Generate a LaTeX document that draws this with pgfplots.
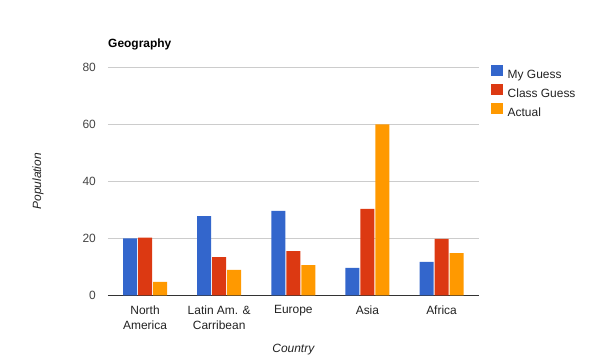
\documentclass[border=0pt]{standalone}
\usepackage{fontspec}
\setmainfont{Liberation Sans}
\usepackage{pgfplots}
\pgfplotsset{compat=1.18}
\usetikzlibrary{calc}
\definecolor{gblue}{HTML}{3366CC}
\definecolor{gred}{HTML}{DC3912}
\definecolor{gorange}{HTML}{FF9900}
\definecolor{ggrid}{HTML}{CCCCCC}
\definecolor{gtick}{HTML}{444444}
\definecolor{gtext}{HTML}{222222}
\definecolor{gaxis}{HTML}{333333}
\pgfplotsset{sq/.style={legend image code/.code={\fill[##1,draw=none] (0bp,-1.5bp) rectangle (11.7bp,10.1bp);}}}
\begin{document}
\begin{tikzpicture}[x=1bp,y=1bp]
\begin{axis}[
  scale only axis, width=370.6bp, height=228bp,
  ybar=1bp, bar width=14bp,
  xmin=-0.5, xmax=4.5, ymin=0, ymax=80,
  enlargelimits=false,
  xtick={0,1,2,3,4},
  xticklabels={North\\America, Latin Am. \&\\Carribean, Europe, Asia, Africa},
  ytick={0,20,40,60,80},
  /pgf/number format/assume math mode=true,
  major tick length=0pt,
  xtick style={draw=none}, ytick style={draw=none},
  ymajorgrids, grid style={ggrid, line width=1bp},
  axis x line*=bottom, axis y line*=left,
  x axis line style={gaxis, line width=1.2bp, -},
  y axis line style={draw=none},
  xticklabel style={align=center, text=gtext, inner sep=0pt, yshift=-10bp, font=\fontsize{12}{15}\selectfont},
  yticklabel style={text=gtick, inner sep=0pt, xshift=-12bp, font=\fontsize{12}{14}\selectfont},
  ylabel={Population}, xlabel={Country},
  ylabel style={at={(axis description cs:-0.189,0.5)}, anchor=center, text=gtext, font=\itshape\fontsize{12}{14}\selectfont},
  xlabel style={at={(axis description cs:0.5,-0.24)}, anchor=center, text=gtext, font=\itshape\fontsize{12}{14}\selectfont},
  title={Geography},
  title style={at={(axis description cs:0,1.075)}, anchor=west, yshift=0pt, inner sep=0pt, font=\bfseries\fontsize{12}{14}\selectfont},
  legend style={at={(axis description cs:1.0335,1.011)}, anchor=north west, draw=none, fill=none, inner sep=0pt, outer sep=0pt, row sep=2.4bp, column sep=5bp, font=\fontsize{12}{14}\selectfont, text=gtext, nodes={inner sep=0pt, text height=10.1bp, text depth=3bp}},
  legend cell align=left,
]
\coordinate (bl) at (rel axis cs:0,0);
\addplot[fill=gblue, draw=none, sq] coordinates {(0,20) (1,27.8) (2,29.6) (3,9.6) (4,11.7)};
\addplot[fill=gred, draw=none, sq] coordinates {(0,20.2) (1,13.4) (2,15.5) (3,30.3) (4,19.8)};
\addplot[fill=gorange, draw=none, sq] coordinates {(0,4.7) (1,8.9) (2,10.6) (3,60) (4,14.8)};
\legend{My Guess, Class Guess, Actual}
\end{axis}
\useasboundingbox ($(bl)+(-108,-62.7)$) rectangle ++(590,358);
\end{tikzpicture}
\end{document}
